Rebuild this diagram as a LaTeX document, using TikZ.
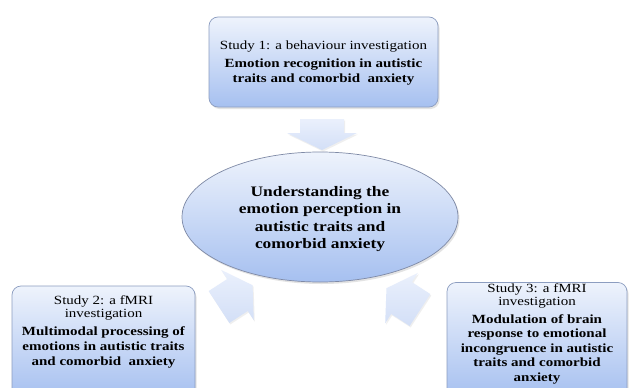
\documentclass[tikz,border=0pt]{standalone}
\usepackage{fontspec}
\setmainfont{Liberation Serif}[FakeStretch=1.2]
\usetikzlibrary{shapes.geometric,shadows}

\definecolor{boxtop}{HTML}{EEF3FC}
\definecolor{boxbot}{HTML}{A6C0F0}
\definecolor{boxline}{HTML}{8C9DC0}
\definecolor{ellline}{HTML}{7F8AA6}
\definecolor{arrowlight}{HTML}{EAF0FC}
\definecolor{arrowfill}{HTML}{D3DFF7}

\tikzset{
  studybox/.style={draw=boxline, line width=0.7pt, rounded corners=9pt,
    top color=boxtop, bottom color=boxbot, inner sep=0pt,
    drop shadow={opacity=0.22, shadow xshift=1.5pt, shadow yshift=-2pt}},
  corebox/.style={ellipse, draw=ellline, line width=0.7pt, inner sep=0pt,
    top color=boxtop, bottom color=boxbot,
    drop shadow={opacity=0.22, shadow xshift=1.5pt, shadow yshift=-2pt}},
  studytext/.style={align=center, inner sep=0pt,
    font=\fontsize{12.5}{15}\selectfont},
  coretext/.style={align=center, inner sep=0pt,
    font=\fontsize{14.5}{17.5}\selectfont\bfseries},
  blockarrow/.style={draw=none, top color=arrowlight, bottom color=arrowfill,
    drop shadow={opacity=0.12, shadow xshift=1pt, shadow yshift=-1.5pt}},
}

\begin{document}
\begin{tikzpicture}[x=1pt, y=-1pt]
  \useasboundingbox (0,0) rectangle (629,388);
  \fill[white] (0,0) rectangle (629,388);

  % block arrows pointing at the central ellipse
  \draw[blockarrow, shift={(322,119)}, rotate=-90]
    (0,22) -- (14,22) -- (14,35) -- (31,0) -- (14,-35) -- (14,-22) -- (0,-22) -- cycle;
  \draw[blockarrow, shift={(219,307)}, rotate=33]
    (0,19) -- (22,19) -- (22,30) -- (40,0) -- (22,-30) -- (22,-19) -- (0,-19) -- cycle;
  \draw[blockarrow, shift={(420,310)}, rotate=147]
    (0,19) -- (22,19) -- (22,30) -- (40,0) -- (22,-30) -- (22,-19) -- (0,-19) -- cycle;

  % study 1
  \node[studybox, minimum width=229pt, minimum height=90pt] (s1) at (323.5,62) {};
  \node[studytext] (s1t) at (323.5,63)
    {Study 1: a behaviour investigation\\[3pt]
     \textbf{Emotion recognition in autistic}\\
     \textbf{traits and comorbid\ \ anxiety}};

  % central ellipse
  \node[corebox, minimum width=276pt, minimum height=130pt] (core) at (320,217) {};
  \node[coretext] (coret) at (320,219)
    {Understanding the\\ emotion perception in\\ autistic traits and\\ comorbid anxiety};

  % study 2
  \node[studybox, minimum width=183pt, minimum height=112pt] (s2) at (103.5,342) {};
  \node[studytext] (s2t) at (103.5,332)
    {Study 2: a fMRI\\[-2pt] investigation\\[3pt]
     \textbf{Multimodal processing of}\\
     \textbf{emotions in autistic traits}\\
     \textbf{and comorbid\ \ anxiety}};

  % study 3
  \node[studybox, minimum width=180pt, minimum height=115pt] (s3) at (537,340) {};
  \node[studytext] (s3t) at (537,334)
    {Study 3: a fMRI\\[-2.5pt] investigation\\[3pt]
     \textbf{Modulation of brain}\\[-0.5pt]
     \textbf{response to emotional}\\[-0.5pt]
     \textbf{incongruence in autistic}\\[-0.5pt]
     \textbf{traits and comorbid}\\[-0.5pt]
     \textbf{anxiety}};
\end{tikzpicture}
\end{document}
